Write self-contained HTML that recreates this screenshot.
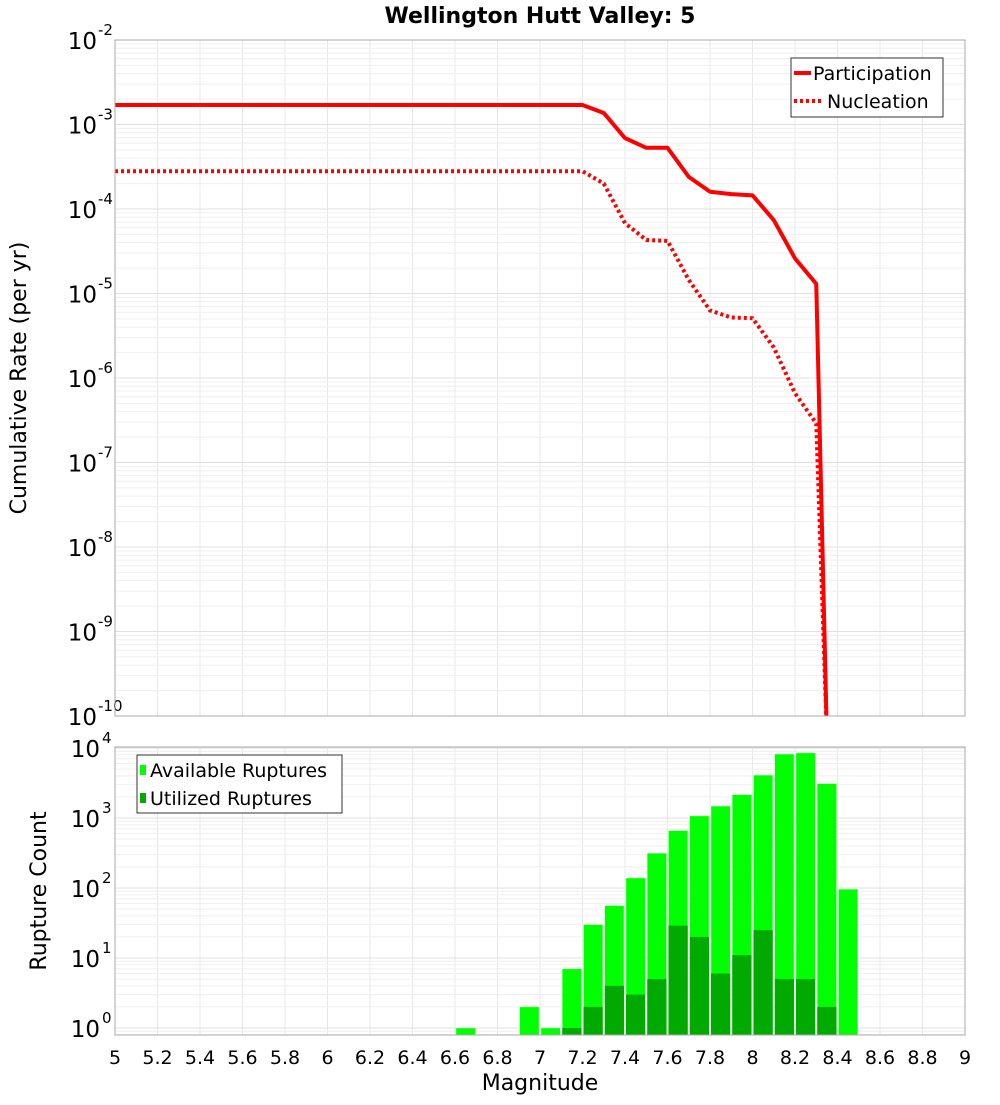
<!DOCTYPE html>
<html><head><meta charset="utf-8"><style>
body{margin:0;background:#fff;font-family:"Liberation Sans","DejaVu Sans",sans-serif}
</style></head><body>
<svg id="c" width="1000" height="1100" xmlns="http://www.w3.org/2000/svg" font-family="DejaVu Sans, Liberation Sans, sans-serif">
<text x="540" y="23" text-anchor="middle" font-size="22" font-weight="bold">Wellington Hutt Valley: 5</text>
<g id="gtop"></g>
<g id="gbot"></g>
<text x="540" y="1090" text-anchor="middle" font-size="22">Magnitude</text>
<text transform="translate(26,378) rotate(-90)" text-anchor="middle" font-size="22">Cumulative Rate (per yr)</text>
<text transform="translate(46,891) rotate(-90)" text-anchor="middle" font-size="22">Rupture Count</text>
<g>
<rect x="791" y="58" width="152" height="59" fill="#fff" stroke="#333"/>
<line x1="794" y1="73" x2="811" y2="73" stroke="#f00" stroke-width="4"/>
<text x="813" y="80" font-size="19">Participation</text>
<line x1="794" y1="101" x2="821" y2="101" stroke="#f00" stroke-width="4" stroke-dasharray="3,3"/>
<text x="827" y="108" font-size="19">Nucleation</text>
</g>
<g>
<rect x="137" y="755" width="205" height="58" fill="#fff" stroke="#333"/>
<rect x="140" y="765" width="6" height="10" fill="#00ff00"/>
<text x="150" y="777" font-size="19">Available Ruptures</text>
<rect x="140" y="793" width="6" height="10" fill="#00aa00"/>
<text x="150" y="805" font-size="19">Utilized Ruptures</text>
</g>
</svg>
<script>
const mags=[5.0,7.2,7.3,7.4,7.5,7.6,7.7,7.8,7.9,8.0,8.1,8.2,8.3,8.35];
const participation=[1.7e-3,1.7e-3,1.37e-3,6.9e-4,5.3e-4,5.3e-4,2.4e-4,1.6e-4,1.5e-4,1.45e-4,7.4e-5,2.6e-5,1.3e-5,1e-12];
const nucleation=[2.8e-4,2.8e-4,2.0e-4,6.8e-5,4.3e-5,4.2e-5,1.45e-5,6.3e-6,5.2e-6,5.1e-6,2.3e-6,6.6e-7,2.9e-7,1e-12];
const binStarts=[6.6,6.9,7.0,7.1,7.2,7.3,7.4,7.5,7.6,7.7,7.8,7.9,8.0,8.1,8.2,8.3,8.4];
const available=[1,2,1,7,30,56,139,314,660,1070,1480,2150,4100,8200,8500,3100,96];
const utilized=[0,0,0,1,2,4,3,5,29,20,6,11,25,5,5,2,0];
const xTicks=[5,5.2,5.4,5.6,5.8,6,6.2,6.4,6.6,6.8,7,7.2,7.4,7.6,7.8,8,8.2,8.4,8.6,8.8,9];
const topExps=[-2,-3,-4,-5,-6,-7,-8,-9,-10];
const botExps=[4,3,2,1,0];

const NS="http://www.w3.org/2000/svg";
function mk(p,t,a){const e=document.createElementNS(NS,t);for(const k in a)e.setAttribute(k,a[k]);p.appendChild(e);return e;}
const X0=115,X1=965;
const xs=m=>X0+(m-5)/4*(X1-X0);
const T0=40,T1=716;
const yt=v=>T0+84.5*(-2-Math.log10(v));
const B0=747,B1=1035;
const yb=v=>1028-70*Math.log10(v);
const gTop=document.getElementById('gtop'),gBot=document.getElementById('gbot');
function grid(g,y0,y1,yf,eMin,eMax){
  xTicks.forEach(t=>{const l=mk(g,'line',{x1:xs(t),x2:xs(t),y1:y0,y2:y1,stroke:'#e8e8e8'});
  
  });
  for(let e=eMin;e<=eMax;e++)for(let k=1;k<10;k++){const y=yf(k*Math.pow(10,e));if(y<y0-0.5||y>y1+0.5)continue;
    const l=mk(g,'line',{x1:X0,x2:X1,y1:y,y2:y,stroke:k==1?'#e0e0e0':'#efefef'});
    
    }
}
grid(gTop,T0,T1,yt,-10,-3);
grid(gBot,B0,B1,yb,-1,4);
topExps.forEach(e=>{const y=yt(Math.pow(10,e));
  const t=mk(gTop,'text',{x:97,y:y+9,'text-anchor':'end','font-size':23});t.textContent='10';
  
  
  const s=mk(gTop,'text',{x:98,y:y-5,'font-size':15});s.textContent=String(e);
  
  });
botExps.forEach(e=>{const y=yb(Math.pow(10,e));
  const t=mk(gBot,'text',{x:100,y:y+9,'text-anchor':'end','font-size':23});t.textContent='10';
  
  
  const s=mk(gBot,'text',{x:102,y:y-5,'font-size':15});s.textContent=String(e);
  
  });
const defs=mk(document.getElementById('c'),'defs',{});
const cp=mk(defs,'clipPath',{id:'clipTop'});mk(cp,'rect',{x:X0,y:T0,width:X1-X0,height:T1-T0});
const cp2=mk(defs,'clipPath',{id:'clipBot'});mk(cp2,'rect',{x:X0,y:B0,width:X1-X0,height:B1-B0});
function line(vals,dash,name){const pts=mags.map((m,i)=>xs(m)+','+Math.min(yt(vals[i]),T1+20)).join(' ');
  const a={points:pts,fill:'none',stroke:'#ff0000','stroke-width':4,'clip-path':'url(#clipTop)','stroke-linejoin':'round'};
  if(dash)a['stroke-dasharray']='3,3';
  const p=mk(gTop,'polyline',a);
  
  }
line(participation,false,'participation-line');
line(nucleation,true,'nucleation-line');
binStarts.forEach((b,i)=>{const x=xs(b)+1,w=xs(b+0.1)-xs(b)-2;
  const yA=yb(available[i]);
  const r=mk(gBot,'rect',{x:x,y:yA,width:w,height:B1-yA,fill:'#00ff00',stroke:'#b8ffb8','stroke-width':0.5,'clip-path':'url(#clipBot)'});
  
  
  if(utilized[i]>0){const yU=yb(utilized[i]);
    const u=mk(gBot,'rect',{x:x,y:yU,width:w,height:B1-yU,fill:'#00aa00','clip-path':'url(#clipBot)'});
    
    }
});
mk(gTop,'rect',{x:X0,y:T0,width:X1-X0,height:T1-T0,fill:'none',stroke:'#aaa'});
mk(gBot,'rect',{x:X0,y:B0,width:X1-X0,height:B1-B0,fill:'none',stroke:'#aaa'});
xTicks.forEach(t=>{const s=mk(gBot,'text',{x:xs(t),y:1064,'text-anchor':'middle','font-size':19});
  s.textContent=String(t);
  
  });
</script>
</body></html>
